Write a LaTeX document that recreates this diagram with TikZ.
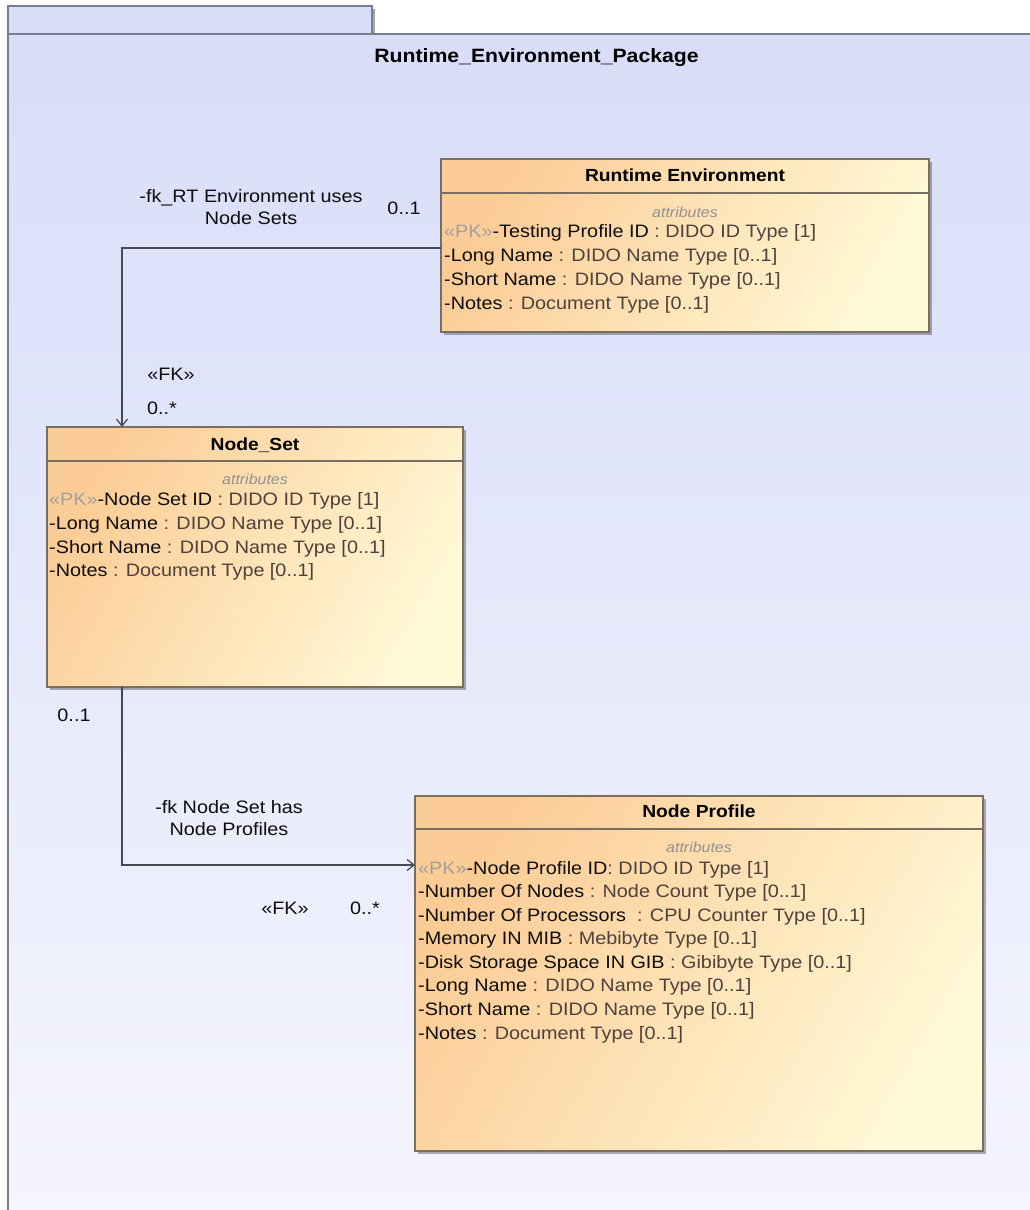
\documentclass[tikz,border=0pt]{standalone}
\usepackage{fontspec}
\setmainfont{Liberation Sans}[FakeStretch=1.1]
\usetikzlibrary{arrows.meta,shadows,calc}
\definecolor{pkgtop}{RGB}{216,221,248}
\definecolor{pkgbot}{RGB}{244,245,253}
\definecolor{pkgline}{RGB}{120,126,145}
\definecolor{boxA}{RGB}{252,204,150}
\definecolor{boxB}{RGB}{255,249,214}
\definecolor{boxline}{RGB}{122,110,96}
\definecolor{typec}{RGB}{78,64,60}
\definecolor{pkc}{RGB}{160,160,160}
\definecolor{attrc}{RGB}{145,145,145}
\definecolor{linkc}{RGB}{70,72,82}
\newcommand\PKtag{{\color{pkc}«PK»}}
\newcommand\Ty[1]{{\color{typec}#1}}
\tikzset{
  classbox/.style={draw=boxline, line width=1.3pt, top color=boxA, bottom color=boxB, shading angle=60,
    drop shadow={shadow xshift=2.5pt, shadow yshift=-2.5pt, fill=black, opacity=0.3},
    inner sep=0, outer sep=0, anchor=north west},
  sepline/.style={draw=boxline, line width=1.2pt},
  ctitle/.style={font=\bfseries\fontsize{17.5}{20}\selectfont, anchor=base, inner sep=0},
  attrlbl/.style={font=\itshape\fontsize{14.5}{17}\selectfont, text=attrc, anchor=base, inner sep=0},
  attr/.style={font=\fontsize{18}{22}\selectfont, anchor=base west, inner sep=0, text=black!95},
  lbl/.style={font=\fontsize{18}{22}\selectfont, inner sep=0, align=center, text=black!95},
  assoc/.style={draw=linkc, line width=1.2pt, -{Straight Barb[length=7pt,width=11pt]}},
  pkgframe/.style={draw=pkgline, line width=1.3pt},
}
\begin{document}
\begin{tikzpicture}[x=1pt,y=-1pt]
\useasboundingbox (0,0) rectangle (1029,1210);
\fill[white] (0,0) rectangle (1029,1210);
% package
\shade[top color=pkgtop, bottom color=pkgbot] (8,34) rectangle (1035,1215);
\fill[black!35] (372,9) rectangle (375,34);
\draw[pkgframe, fill=pkgtop] (8,34) -- (8,6) -- (372,6) -- (372,34);
\draw[pkgframe] (1035,34) -- (8,34) -- (8,1215);
\node[font=\bfseries\fontsize{19.3}{22}\selectfont, anchor=base, inner sep=0] (pkgtitle) at (536.5,62) {Runtime\_Environment\_Package};

% Runtime Environment
\node[classbox, minimum width=488, minimum height=173] (re) at (441,159) {};
\draw[sepline] ($(re.north west)+(0,34)$) -- ($(re.north east)+(0,34)$);
\node[ctitle] (re-t) at (685,181) {Runtime Environment};
\node[attrlbl] (re-a) at (685,217) {attributes};
\node[attr] (re-1) at (444,237.5) {\PKtag-Testing Profile ID \Ty{: DIDO ID Type [1]}};
\node[attr] (re-2) at (444,261.5) {-Long Name \Ty{: DIDO Name Type [0..1]}};
\node[attr] (re-3) at (444,285.5) {-Short Name \Ty{: DIDO Name Type [0..1]}};
\node[attr] (re-4) at (444,309.5) {-Notes \Ty{: Document Type [0..1]}};

% Node_Set
\node[classbox, minimum width=416, minimum height=260] (ns) at (47,427) {};
\draw[sepline] ($(ns.north west)+(0,34)$) -- ($(ns.north east)+(0,34)$);
\node[ctitle] (ns-t) at (255,450) {Node\_Set};
\node[attrlbl] (ns-a) at (255,484) {attributes};
\node[attr] (ns-1) at (49,505.5) {\PKtag-Node Set ID \Ty{: DIDO ID Type [1]}};
\node[attr] (ns-2) at (49,529.5) {-Long Name \Ty{: DIDO Name Type [0..1]}};
\node[attr] (ns-3) at (49,553.5) {-Short Name \Ty{: DIDO Name Type [0..1]}};
\node[attr] (ns-4) at (49,576.5) {-Notes \Ty{: Document Type [0..1]}};

% Node Profile
\node[classbox, minimum width=568, minimum height=355] (np) at (415,796) {};
\draw[sepline] ($(np.north west)+(0,33)$) -- ($(np.north east)+(0,33)$);
\node[ctitle] (np-t) at (699,817) {Node Profile};
\node[attrlbl] (np-a) at (699,852) {attributes};
\node[attr] (np-1) at (418,874.5) {\PKtag-Node Profile ID\Ty{: DIDO ID Type [1]}};
\node[attr] (np-2) at (418,897.5) {-Number Of Nodes \Ty{: Node Count Type [0..1]}};
\node[attr] (np-3) at (418,921.5) {-Number Of Processors\ \ \Ty{: CPU Counter Type [0..1]}};
\node[attr] (np-4) at (418,944.5) {-Memory IN MIB \Ty{: Mebibyte Type [0..1]}};
\node[attr] (np-5) at (418,968.5) {-Disk Storage Space IN GIB \Ty{: Gibibyte Type [0..1]}};
\node[attr] (np-6) at (418,991.5) {-Long Name \Ty{: DIDO Name Type [0..1]}};
\node[attr] (np-7) at (418,1015.5) {-Short Name \Ty{: DIDO Name Type [0..1]}};
\node[attr] (np-8) at (418,1039.5) {-Notes \Ty{: Document Type [0..1]}};

% connectors
\coordinate (k1) at (122,248);
\draw[assoc] (re.west |- k1) -- (k1) -- (k1 |- ns.north);
\coordinate (k2) at (122,865);
\draw[assoc] (k2 |- ns.south) -- (k2) -- (np.west |- k2);

% labels
\node[lbl] (l1) at (251,207.5) {-fk\_RT Environment uses\\Node Sets};
\node[lbl] (l1s) at (404,208) {0..1};
\node[lbl] (l1fk) at (171,374) {«FK»};
\node[lbl] (l1t) at (162,408) {0..*};
\node[lbl] (l2s) at (74,715) {0..1};
\node[lbl] (l2) at (229,818.5) {-fk Node Set has\\Node Profiles};
\node[lbl] (l2fk) at (285,908) {«FK»};
\node[lbl] (l2t) at (365,908) {0..*};
\end{tikzpicture}
\end{document}
